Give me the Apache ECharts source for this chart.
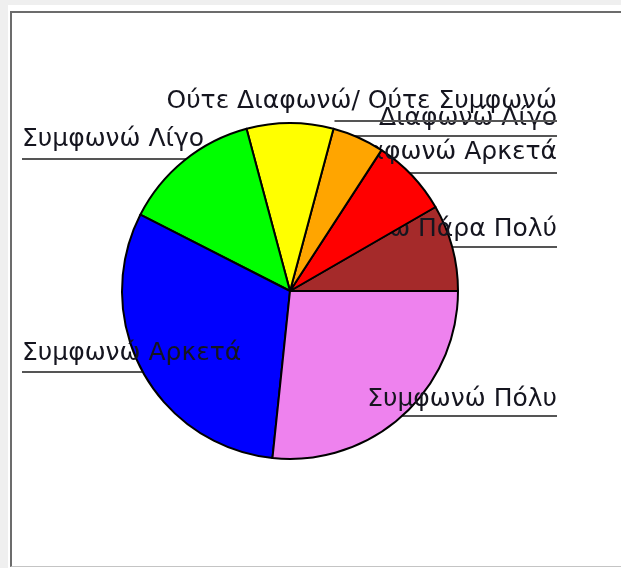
<!DOCTYPE html>
<html>
<head>
<meta charset="utf-8">
<script src="https://cdn.jsdelivr.net/npm/echarts@6/dist/echarts.min.js"></script>
<style>
  html, body { margin: 0; padding: 0; width: 621px; height: 568px; overflow: hidden; background: #efefef; }
  #sheet { position: absolute; left: 8px; top: 5px; right: 0; bottom: 0; background: #ffffff; }
  #frame { position: absolute; left: 10px; top: 11px; width: 700px; height: 553px;
           border-left: 2px solid #6c6c6c; border-top: 2px solid #6c6c6c; border-bottom: 1px solid #c4c4c4; }
  #chart { position: absolute; left: 0; top: 0; width: 621px; height: 568px; }
</style>
</head>
<body>
<div id="sheet"></div>
<div id="frame"></div>
<div id="chart"></div>
<script>
// Survey answers, counter-clockwise from three o'clock
const categories = [
  'Διαφωνώ Πάρα Πολύ',
  'Διαφωνώ Αρκετά',
  'Διαφωνώ Λίγο',
  'Ούτε Διαφωνώ/ Ούτε Συμφωνώ',
  'Συμφωνώ Λίγο',
  'Συμφωνώ Αρκετά',
  'Συμφωνώ Πόλυ'
];
const responses = [10, 9, 6, 10, 16, 37, 32];
const sliceColors = ['#a52a2a', '#ff0000', '#ffa500', '#ffff00', '#00ff00', '#0000ff', '#ee82ee'];

// layout
const CENTER = [290, 291];
const RADIUS = 168;
const FONT = 25;
const INK = '#15151f';
const EDGE_LEFT = 22;
const EDGE_RIGHT = 557;
const labelSpots = [
  { side: 'right', baseline: 238, rule: 247 },
  { side: 'right', baseline: 161, rule: 173 },
  { side: 'right', baseline: 127, rule: 136 },
  { side: 'right', baseline: 110, rule: 121 },
  { side: 'left',  baseline: 148, rule: 159 },
  { side: 'left',  baseline: 362, rule: 372 },
  { side: 'right', baseline: 408, rule: 416 }
];

// Captions hug the left/right edge; their underline runs in to the rim of the pie.
function placeLabel(params) {
  const spot = labelSpots[params.dataIndex];
  const right = spot.side === 'right';
  const xOut = right ? EDGE_RIGHT : EDGE_LEFT;
  const dy = spot.rule - CENTER[1];
  let xIn;
  if (Math.abs(dy) < RADIUS) {
    const half = Math.sqrt(RADIUS * RADIUS - dy * dy);
    xIn = CENTER[0] + (right ? 1 : -1) * half;
  } else {
    xIn = right ? params.rect.x + params.rect.width : params.rect.x;
  }
  const xMid = (xIn + xOut) / 2;
  return {
    x: xOut,
    y: spot.baseline - 0.35 * FONT,
    align: right ? 'right' : 'left',
    verticalAlign: 'middle',
    labelLinePoints: [[xIn, spot.rule], [xMid, spot.rule], [xOut, spot.rule]]
  };
}

// Each slice is painted together with its own caption, one layer per slice,
// so a later slice covers whatever earlier captions reach into it.
function sliceLayer(k) {
  return {
    type: 'pie',
    z: k + 1,
    center: CENTER,
    radius: RADIUS,
    startAngle: 0,
    clockwise: false,
    avoidLabelOverlap: false,
    silent: true,
    emphasis: { disabled: true },
    labelLayout: placeLabel,
    data: categories.map((name, i) => ({
      name: name,
      value: responses[i],
      itemStyle: i === k
        ? { color: sliceColors[i], borderColor: '#000000', borderWidth: 2 }
        : { color: 'transparent', borderWidth: 0 },
      label: { show: i === k },
      labelLine: { show: i === k }
    })),
    label: {
      position: 'outside',
      formatter: '{b}',
      fontFamily: 'DejaVu Sans',
      fontSize: FONT,
      color: INK
    },
    labelLine: { length: 10, length2: 10, lineStyle: { color: '#555555', width: 2 } }
  };
}

const chart = echarts.init(document.getElementById('chart'), null, { renderer: 'canvas' });
chart.setOption({
  animation: false,
  backgroundColor: 'transparent',
  series: categories.map((_, k) => sliceLayer(k))
});
</script>
</body>
</html>
